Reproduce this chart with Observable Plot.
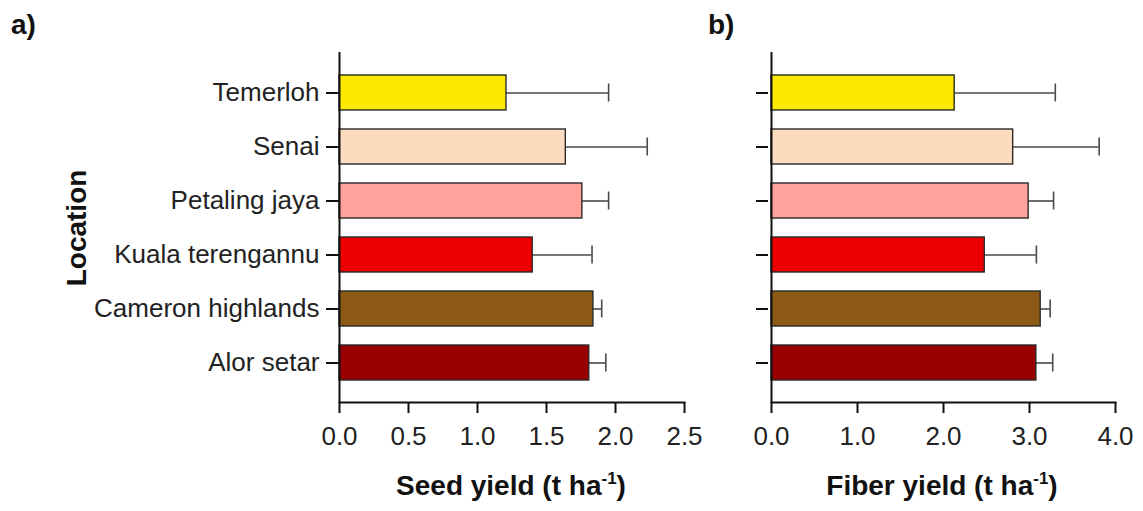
<!DOCTYPE html>
<html>
<head>
<meta charset="utf-8">
<script src="https://cdn.jsdelivr.net/npm/d3@7"></script>
<script src="https://cdn.jsdelivr.net/npm/@observablehq/plot@0.6"></script>
<style>
  html, body { margin: 0; padding: 0; background: #fff; }
  #wrap { position: relative; width: 1143px; height: 511px; overflow: hidden; font-family: "Liberation Sans", Arial, sans-serif; }
  #pa { position: absolute; left: 0; top: 0; }
  #pb { position: absolute; left: 720px; top: 0; }
  svg text { font-family: "Liberation Sans", Arial, sans-serif; }
</style>
</head>
<body>
<div id="wrap"><div id="pa"></div><div id="pb"></div></div>
<script>
// Data (top to bottom as in the chart)
const locations = ["Temerloh", "Senai", "Petaling jaya", "Kuala terengannu", "Cameron highlands", "Alor setar"];
const barColors = ["#fde800", "#fddbbf", "#ffa29c", "#ee0000", "#8c5a16", "#990000"];
const seedYield = [1.21, 1.64, 1.76, 1.40, 1.84, 1.81];
const seedErr   = [0.74, 0.59, 0.19, 0.43, 0.06, 0.12];
const fiberYield = [2.13, 2.81, 2.99, 2.48, 3.13, 3.08];
const fiberErr   = [1.17, 1.00, 0.29, 0.60, 0.11, 0.19];
const seedTicks = [0, 0.5, 1.0, 1.5, 2.0, 2.5];
const fiberTicks = [0, 1.0, 2.0, 3.0, 4.0];

const seedData = locations.map((loc, i) => ({loc, v: seedYield[i], e: seedErr[i]}));
const fiberData = locations.map((loc, i) => ({loc, v: fiberYield[i], e: fiberErr[i]}));
const fmt = d3.format(".1f");

function panel({data, width, marginLeft, marginRight, xDomain, ticks, showLabels}) {
  const svg = Plot.plot({
    width, height: 511,
    marginTop: 52, marginBottom: 109, marginLeft, marginRight,
    style: {fontSize: "26px", color: "#222", background: "transparent", overflow: "visible"},
    x: {domain: xDomain},
    y: {domain: locations, paddingInner: 0.36, paddingOuter: 0.39},
    color: {domain: locations, range: barColors},
    marks: [
      Plot.ruleY(data, {y: "loc", x1: "v", x2: d => d.v + d.e, stroke: "#4a4a4a", strokeWidth: 1.6}),
      Plot.tickX(data, {y: "loc", x: d => d.v + d.e, stroke: "#4a4a4a", strokeWidth: 1.6, insetTop: 8.5, insetBottom: 8.5}),
      Plot.barX(data, {y: "loc", x: "v", fill: "loc", stroke: "#2a2a2a", strokeWidth: 1.4}),
      Plot.ruleX([0], {stroke: "#111", strokeWidth: 2}),
      Plot.frame({anchor: "bottom", stroke: "#111", strokeWidth: 2}),
      Plot.axisX({ticks, tickFormat: fmt, fontSize: 26, tickSize: 11, tickPadding: 13, strokeWidth: 2, stroke: "#111", label: null, fill: "#222"}),
      showLabels
        ? Plot.axisY({fontSize: 26, tickSize: 13, tickPadding: 7, strokeWidth: 2, stroke: "#111", label: null, fill: "#222"})
        : Plot.axisY({tickSize: 12, dx: -3, strokeWidth: 2, stroke: "#111", label: null, tickFormat: () => ""})
    ]
  });
  return svg;
}

const svgA = panel({data: seedData, width: 720, marginLeft: 339, marginRight: 36, xDomain: [0, 2.5], ticks: seedTicks, showLabels: true});
const svgB = panel({data: fiberData, width: 423, marginLeft: 51, marginRight: 28, xDomain: [0, 4], ticks: fiberTicks, showLabels: false});
document.getElementById("pa").appendChild(svgA);
document.getElementById("pb").appendChild(svgB);

function title(svg, x, main) {
  const t = d3.select(svg).append("text")
    .attr("x", x).attr("y", 495)
    .attr("text-anchor", "middle")
    .attr("font-weight", "bold").attr("font-size", 28).attr("fill", "#111");
  t.append("tspan").text(main + " (t ha");
  t.append("tspan").attr("font-size", 17).attr("dy", -11).text("-1");
  t.append("tspan").attr("dy", 11).text(")");
}
title(svgA, 511, "Seed yield");
title(svgB, 222, "Fiber yield");

d3.select(svgA).append("text")
  .attr("transform", "translate(86,228) rotate(-90)")
  .attr("text-anchor", "middle")
  .attr("font-weight", "bold").attr("font-size", 28).attr("fill", "#111")
  .text("Location");

d3.select(svgA).append("text").attr("x", 11).attr("y", 34).attr("text-anchor", "start")
  .attr("font-weight", "bold").attr("font-size", 28).attr("fill", "#111").text("a)");
d3.select(svgB).append("text").attr("x", -12).attr("y", 34).attr("text-anchor", "start")
  .attr("font-weight", "bold").attr("font-size", 28).attr("fill", "#111").text("b)");
</script>
</body>
</html>
